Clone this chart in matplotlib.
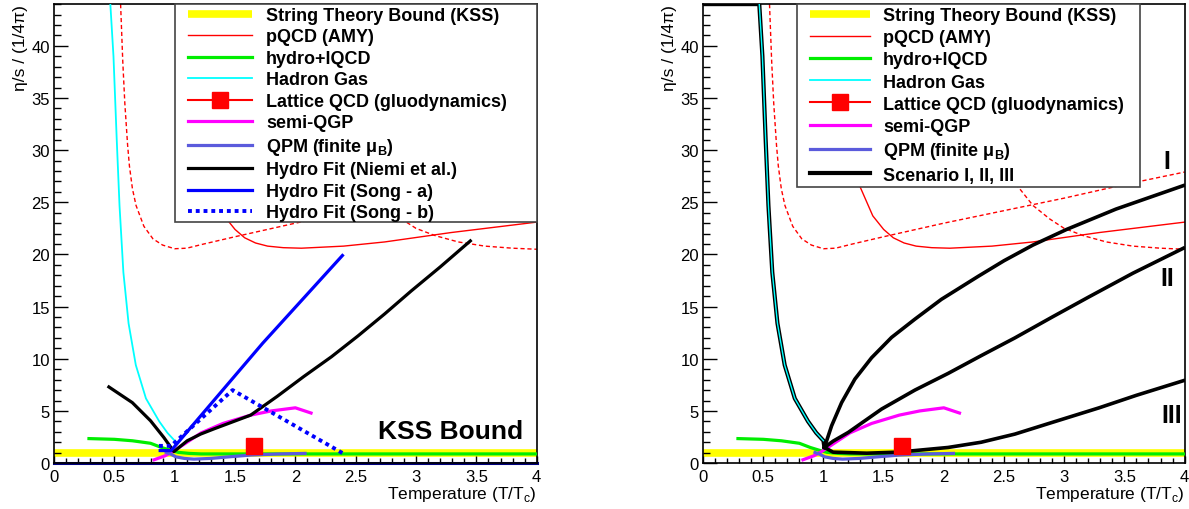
import matplotlib
matplotlib.use('Agg')
import matplotlib.pyplot as plt
from matplotlib.lines import Line2D
from matplotlib.patches import Rectangle
from matplotlib.ticker import MultipleLocator

plt.rcParams['font.family'] = ['Liberation Sans', 'DejaVu Sans']
plt.rcParams['mathtext.fontset'] = 'custom'
plt.rcParams['mathtext.rm'] = 'Liberation Sans'

# datos (eje x en T/Tc, eje y en eta/s en unidades de 1/4pi)
kss_x = [0, 4]
kss_y = [1, 1]

amy_x = [1.2, 1.3, 1.41, 1.5, 1.58, 1.67, 1.77, 1.9, 2.05, 2.4, 2.74, 3.29, 4.0]
amy_y = [31, 26.6, 23.7, 22.4, 21.6, 21.1, 20.8, 20.65, 20.6, 20.8, 21.2, 22.1, 23.1]

amy_lo_x = [0.552, 0.57, 0.587, 0.61, 0.625, 0.65, 0.68, 0.745, 0.82, 0.9, 1.0, 1.1, 1.24,
            1.5, 2.0, 2.5, 3.0, 3.5, 4.0]
amy_lo_y = [44, 38.5, 34.5, 30.5, 28.5, 26.3, 24.7, 22.7, 21.5, 20.9, 20.55, 20.6, 21.0,
            21.7, 23.0, 24.2, 25.4, 26.7, 27.9]

amy_hi_x = [2.35, 2.5, 2.63, 2.74, 2.88, 3.0, 3.16, 3.35, 3.57, 3.8, 4.0]
amy_hi_y = [32, 28.2, 26.3, 24.7, 23.4, 22.5, 21.8, 21.2, 20.8, 20.6, 20.5]

lqcd_x = [0.29, 0.5, 0.65, 0.8, 0.89, 0.96, 1.03, 1.12, 1.22, 1.4, 2.0, 3.0, 4.0]
lqcd_y = [2.35, 2.28, 2.14, 1.9, 1.5, 1.25, 1.03, 0.93, 0.88, 0.88, 0.88, 0.88, 0.88]

hg_x = [0.467, 0.493, 0.52, 0.543, 0.575, 0.618, 0.678, 0.762, 0.872, 0.94, 1.0]
hg_y = [44, 39, 31, 24.7, 18.3, 13.4, 9.4, 6.2, 4.0, 2.9, 2.15]

lattice_x = [1.656]
lattice_y = [1.6]

qgp_x = [0.83, 0.92, 0.97, 1.05, 1.22, 1.4, 1.63, 1.8, 2.0, 2.13]
qgp_y = [0.32, 0.7, 1.0, 1.6, 2.9, 3.8, 4.6, 5.0, 5.3, 4.8]

qpm_x = [0.93, 0.97, 1.01, 1.08, 1.16, 1.3, 1.45, 1.63, 1.85, 2.08]
qpm_y = [1.02, 0.85, 0.6, 0.45, 0.38, 0.45, 0.6, 0.77, 0.87, 0.93]

niemi_x = [0.455, 0.649, 0.8, 0.91, 0.994, 1.104, 1.215, 1.33, 1.63, 1.85, 2.07, 2.3, 2.52,
           2.74, 2.96, 3.2, 3.45]
niemi_y = [7.3, 5.8, 4.06, 2.46, 1.1, 2.14, 2.78, 3.3, 4.6, 6.4, 8.3, 10.2, 12.2,
           14.3, 16.5, 18.8, 21.3]

songa_x = [0.88, 0.97, 1.0, 1.73, 2.39]
songa_y = [1.2, 1.2, 1.6, 11.5, 19.9]

songb_x = [0.87, 0.97, 1.48, 2.4]
songb_y = [1.65, 1.65, 7.0, 0.9]

cero_x = [0, 4]
cero_y = [0, 0]

# escenarios del panel derecho
hgb_x = [0] + hg_x + [1.008]
hgb_y = [44] + hg_y + [1.5]

s1_x = [1.008, 1.068, 1.151, 1.261, 1.40, 1.566, 1.76, 1.98, 2.285, 2.5, 2.74, 3.02, 3.43, 3.99]
s1_y = [1.5, 3.58, 5.8, 8.05, 10.1, 12.05, 13.8, 15.7, 17.9, 19.4, 20.9, 22.4, 24.35, 26.6]

s2_x = [1.008, 1.08, 1.206, 1.483, 1.76, 2.036, 2.31, 2.59, 2.9, 3.2, 3.57, 3.99]
s2_y = [1.5, 2.1, 2.94, 5.18, 7.0, 8.6, 10.3, 12.0, 14.0, 15.9, 18.2, 20.6]

s3_x = [1.008, 1.08, 1.36, 1.62, 2.036, 2.31, 2.59, 2.9, 3.29, 3.6, 3.99]
s3_y = [1.5, 1.05, 0.95, 1.05, 1.5, 2.0, 2.78, 3.9, 5.3, 6.5, 7.9]

QPM_COLOR = '#5b5bdc'


def curvas_comunes(ax):
    ax.plot(kss_x, kss_y, color='#ffff00', lw=5.5, solid_capstyle='butt', zorder=1)
    ax.plot(amy_x, amy_y, color='red', lw=1.0, zorder=2)
    ax.plot(amy_lo_x, amy_lo_y, color='red', lw=1.0, ls=(0, (3, 2)), zorder=2)
    ax.plot(amy_hi_x, amy_hi_y, color='red', lw=1.0, ls=(0, (3, 2)), zorder=2)
    ax.plot(lqcd_x, lqcd_y, color='#00ee00', lw=2.3, zorder=3)
    ax.plot(qgp_x, qgp_y, color='#ff00ff', lw=2.3, zorder=4)
    ax.plot(qpm_x, qpm_y, color=QPM_COLOR, lw=2.3, zorder=4)
    ax.plot(lattice_x, lattice_y, ls='none', marker='s', ms=11, color='red', zorder=6)


def ejes(ax):
    ax.set_xlim(0, 4)
    ax.set_ylim(0, 44)
    ax.xaxis.set_major_locator(MultipleLocator(0.5))
    ax.xaxis.set_minor_locator(MultipleLocator(0.1))
    ax.yaxis.set_major_locator(MultipleLocator(5))
    ax.yaxis.set_minor_locator(MultipleLocator(1))
    ax.xaxis.set_major_formatter(plt.FuncFormatter(lambda v, p: '%g' % v))
    ax.tick_params(axis='both', which='both', direction='in', labelsize=12, width=1)
    ax.tick_params(axis='x', which='major', length=5, pad=4)
    ax.tick_params(axis='x', which='minor', length=3.5)
    ax.tick_params(axis='y', which='major', length=10, pad=3)
    ax.tick_params(axis='y', which='minor', length=5)
    for s in ax.spines.values():
        s.set_linewidth(1.2)
    ax.set_xlabel('Temperature (T/T$_\\mathregular{c}$)', loc='right', fontsize=12.5, labelpad=0)
    ax.set_ylabel('η/s / (1/4π)', loc='top', fontsize=12.5, labelpad=2)


def leyenda(ax, handles, labels, caja, x_handle, hlen, hpad, lspace):
    # marco dibujado aparte para controlar el tamaño de la caja
    x0, y0, w, h = caja
    ax.add_patch(Rectangle((x0, y0), w, h, transform=ax.transAxes, facecolor='white',
                           edgecolor='#444444', lw=1.2, zorder=9, clip_on=False))
    leg = ax.legend(handles, labels, loc='upper left', bbox_to_anchor=(x_handle, 0.994),
                    borderaxespad=0, borderpad=0, frameon=False,
                    prop={'weight': 'bold', 'size': 13}, handlelength=hlen,
                    handletextpad=hpad, labelspacing=lspace)
    leg.set_zorder(10)
    return leg


h_kss = Line2D([], [], color='#ffff00', lw=5.5, solid_capstyle='butt')
h_amy = Line2D([], [], color='red', lw=1.0)
h_lqcd = Line2D([], [], color='#00ee00', lw=2.3)
h_hg = Line2D([], [], color='cyan', lw=1.3)
h_lat = Line2D([], [], color='red', lw=1.5, marker='s', ms=11)
h_qgp = Line2D([], [], color='#ff00ff', lw=2.3)
h_qpm = Line2D([], [], color=QPM_COLOR, lw=2.3)
etiquetas = ['String Theory Bound (KSS)', 'pQCD (AMY)', 'hydro+lQCD', 'Hadron Gas',
             'Lattice QCD (gluodynamics)', 'semi-QGP', 'QPM (finite μ$_\\mathregular{B}$)']

fig = plt.figure(figsize=(11.89, 5.10), dpi=100)
ax1 = fig.add_axes([0.0454, 0.090, 0.406, 0.900])
ax2 = fig.add_axes([0.5913, 0.090, 0.405, 0.900])

# panel izquierdo
curvas_comunes(ax1)
ax1.plot(cero_x, cero_y, color='#000080', lw=2.2, zorder=2, clip_on=False)
ax1.plot(hg_x, hg_y, color='cyan', lw=1.3, zorder=3)
ax1.plot(niemi_x, niemi_y, color='black', lw=2.3, zorder=5)
ax1.plot(songa_x, songa_y, color='blue', lw=2.3, zorder=5)
ax1.plot(songb_x, songb_y, color='blue', lw=2.8, ls=(0, (1, 1)), zorder=5)
ax1.text(3.29, 3.1, 'KSS Bound', fontsize=19, fontweight='bold', ha='center', va='center')
ejes(ax1)

handles1 = [h_kss, h_amy, h_lqcd, h_hg, h_lat, h_qgp, h_qpm,
            Line2D([], [], color='black', lw=2.3),
            Line2D([], [], color='blue', lw=2.3),
            Line2D([], [], color='blue', lw=2.8, ls=(0, (1, 1)))]
labels1 = etiquetas + ['Hydro Fit (Niemi et al.)', 'Hydro Fit (Song - a)', 'Hydro Fit (Song - b)']
leyenda(ax1, handles1, labels1, (0.2505, 0.525, 0.7495, 0.475), 0.277, 3.55, 0.78, 0.25)

# panel derecho
curvas_comunes(ax2)
ax2.plot(hgb_x, hgb_y, color='black', lw=3.0, zorder=3)
ax2.plot(hg_x, hg_y, color='cyan', lw=1.0, zorder=3)
ax2.plot(s1_x, s1_y, color='black', lw=2.6, zorder=5)
ax2.plot(s2_x, s2_y, color='black', lw=2.6, zorder=5)
ax2.plot(s3_x, s3_y, color='black', lw=2.6, zorder=5)
ax2.text(3.856, 28.95, 'I', fontsize=18, fontweight='bold', ha='center', va='center')
ax2.text(3.86, 17.7, 'II', fontsize=18, fontweight='bold', ha='center', va='center')
ax2.text(3.89, 4.57, 'III', fontsize=18, fontweight='bold', ha='center', va='center')
ejes(ax2)

handles2 = [h_kss, h_amy, h_lqcd, h_hg, h_lat, h_qgp, h_qpm, Line2D([], [], color='black', lw=3)]
labels2 = etiquetas + ['Scenario I, II, III']
leyenda(ax2, handles2, labels2, (0.195, 0.601, 0.7116, 0.399), 0.222, 3.33, 0.72, 0.29)

plt.savefig('out.png', dpi=100)
